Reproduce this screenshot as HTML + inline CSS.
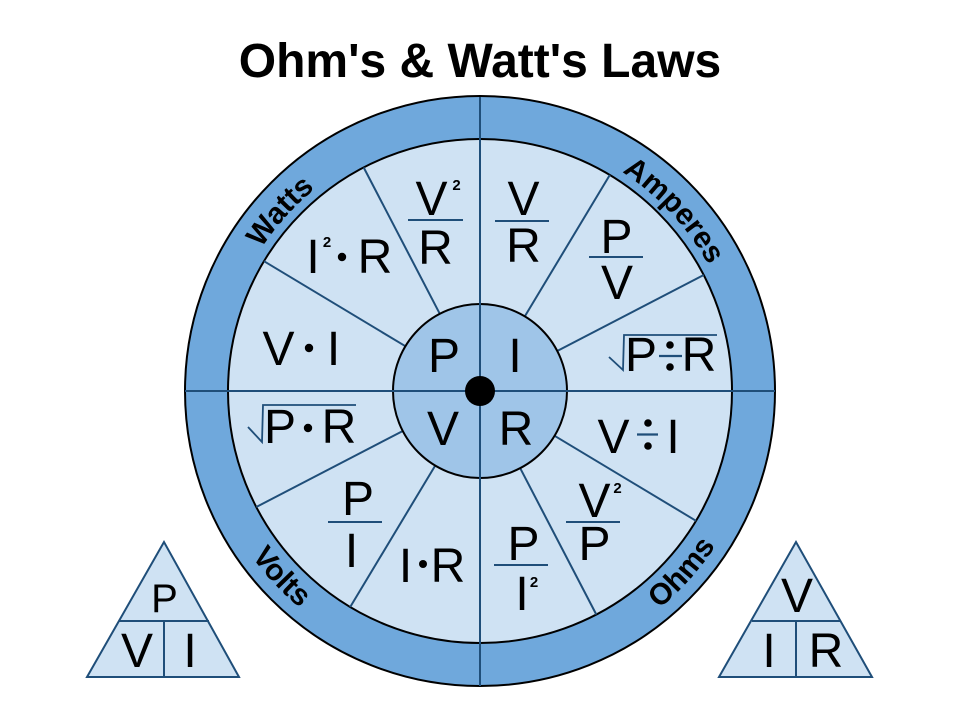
<!DOCTYPE html>
<html>
<head>
<meta charset="utf-8">
<style>
  html, body { margin: 0; padding: 0; background: #ffffff; }
  body { width: 960px; height: 720px; overflow: hidden; }
  svg { display: block; }
  text { font-family: "Liberation Sans", Arial, sans-serif; fill: #000; }
</style>
</head>
<body>
<svg width="960" height="720" viewBox="0 0 960 720" xmlns="http://www.w3.org/2000/svg">
  <defs>
    <path id="topArc" d="M 219 391 A 261 261 0 0 1 741 391" fill="none"/>
    <path id="botArc" d="M 198 391 A 282 282 0 0 0 762 391" fill="none"/>
  </defs>

  <!-- Title -->
  <text x="480" y="77" font-size="48" font-weight="bold" text-anchor="middle">Ohm's &amp; Watt's Laws</text>

  <!-- Wheel -->
  <circle cx="480" cy="391" r="295" fill="#6fa8dc" stroke="#000" stroke-width="2"/>
  <circle cx="480" cy="391" r="252" fill="#cfe2f3" stroke="#000" stroke-width="2"/>

  <!-- spokes -->
  <g stroke="#1f4e79" stroke-width="2" stroke-linecap="butt">
    <line x1="554.6" y1="435.8" x2="696.0" y2="520.8"/>
    <line x1="405.4" y1="346.2" x2="264.0" y2="261.2"/>
    <line x1="520.2" y1="468.2" x2="596.3" y2="614.5"/>
    <line x1="439.8" y1="313.8" x2="363.7" y2="167.5"/>
    <line x1="435.2" y1="465.6" x2="350.2" y2="607.0"/>
    <line x1="524.8" y1="316.4" x2="609.8" y2="175.0"/>
    <line x1="402.8" y1="431.0" x2="256.3" y2="507.0"/>
    <line x1="557.2" y1="351.0" x2="703.7" y2="275.0"/>
  </g>

  <circle cx="480" cy="391" r="87" fill="#9fc5e8" stroke="#000" stroke-width="2"/>

  <!-- axes -->
  <g stroke="#1f4e79" stroke-width="2">
    <line x1="480" y1="97" x2="480" y2="686"/>
    <line x1="185" y1="391" x2="775" y2="391"/>
  </g>
  <circle cx="480" cy="391" r="15" fill="#000"/>

  <!-- ring labels -->
  <text font-size="30" font-weight="bold" text-anchor="middle"><textPath href="#topArc" startOffset="191">Watts</textPath></text>
  <text font-size="30" font-weight="bold" text-anchor="middle"><textPath href="#topArc" startOffset="624">Amperes</textPath></text>
  <text font-size="30" font-weight="bold" text-anchor="middle"><textPath href="#botArc" startOffset="212">Volts</textPath></text>
  <text font-size="30" font-weight="bold" text-anchor="middle"><textPath href="#botArc" startOffset="679">Ohms</textPath></text>

  <!-- inner letters -->
  <g font-size="48" text-anchor="middle">
    <text x="444" y="372">P</text>
    <text x="515" y="372">I</text>
    <text x="443" y="445">V</text>
    <text x="516" y="445">R</text>
  </g>

  <!-- segment formulas -->
  <g font-size="48" text-anchor="middle">
    <text x="278.5" y="365">V</text>
    <text x="333.5" y="365">I</text>
    <text x="313" y="273">I</text>
    <text x="375" y="273">R</text>
    <text x="431.5" y="215">V</text>
    <text x="435.5" y="264">R</text>
    <text x="523.5" y="215">V</text>
    <text x="523.5" y="262">R</text>
    <text x="616.5" y="253">P</text>
    <text x="617" y="299">V</text>
    <text x="641" y="371">P</text>
    <text x="699" y="371">R</text>
    <text x="613.5" y="453">V</text>
    <text x="673" y="453">I</text>
    <text x="594.5" y="517">V</text>
    <text x="594.5" y="560">P</text>
    <text x="523.5" y="560">P</text>
    <text x="522" y="610">I</text>
    <text x="405.5" y="582">I</text>
    <text x="448" y="582">R</text>
    <text x="358" y="515">P</text>
    <text x="351.5" y="567">I</text>
    <text x="280" y="443">P</text>
    <text x="339" y="443">R</text>
  </g>

  <!-- superscripts -->
  <g font-size="15" font-weight="bold" text-anchor="middle">
    <text x="327" y="247">2</text>
    <text x="456.5" y="190">2</text>
    <text x="617.5" y="493">2</text>
    <text x="534" y="587">2</text>
  </g>

  <!-- dots -->
  <g fill="#000">
    <circle cx="309" cy="348" r="4.2"/>
    <circle cx="342" cy="257" r="4.2"/>
    <circle cx="308" cy="428" r="4.2"/>
    <circle cx="423" cy="564" r="4"/>
    <circle cx="670" cy="345" r="3.8"/>
    <circle cx="670" cy="367" r="3.8"/>
    <circle cx="648" cy="423" r="3.8"/>
    <circle cx="648" cy="446" r="3.8"/>
  </g>
  <g stroke="#1f4e79" stroke-width="2.2">
    <line x1="659" y1="356" x2="682" y2="356"/>
    <line x1="637" y1="434.5" x2="658" y2="434.5"/>
  </g>

  <!-- fraction lines -->
  <g stroke="#1f4e79" stroke-width="2">
    <line x1="408" y1="220" x2="463" y2="220"/>
    <line x1="495" y1="221" x2="549" y2="221"/>
    <line x1="589" y1="257" x2="643" y2="257"/>
    <line x1="566" y1="522" x2="620" y2="522"/>
    <line x1="494" y1="565" x2="548" y2="565"/>
    <line x1="328" y1="522" x2="382" y2="522"/>
  </g>

  <!-- radicals -->
  <g fill="none" stroke="#1f4e79" stroke-width="1.8" stroke-linejoin="miter">
    <polyline points="609,357 623,370 624,335 717,335"/>
    <polyline points="248,427 262,442 263,405 356,405"/>
  </g>

  <!-- Left triangle -->
  <g stroke="#1f4e79" stroke-width="2">
    <polygon points="164,542 87,677 239,677" fill="#cfe2f3"/>
    <line x1="119" y1="621" x2="209" y2="621"/>
    <line x1="164" y1="621" x2="164" y2="677"/>
  </g>
  <text x="164.5" y="612" font-size="40" text-anchor="middle">P</text>
  <text x="137" y="667" font-size="48" text-anchor="middle">V</text>
  <text x="190" y="667" font-size="48" text-anchor="middle">I</text>

  <!-- Right triangle -->
  <g stroke="#1f4e79" stroke-width="2">
    <polygon points="796,542 719,677 872,677" fill="#cfe2f3"/>
    <line x1="752" y1="621" x2="840" y2="621"/>
    <line x1="796" y1="621" x2="796" y2="677"/>
  </g>
  <text x="797" y="612" font-size="48" text-anchor="middle">V</text>
  <text x="769" y="667" font-size="48" text-anchor="middle">I</text>
  <text x="826" y="667" font-size="48" text-anchor="middle">R</text>
</svg>
</body>
</html>
